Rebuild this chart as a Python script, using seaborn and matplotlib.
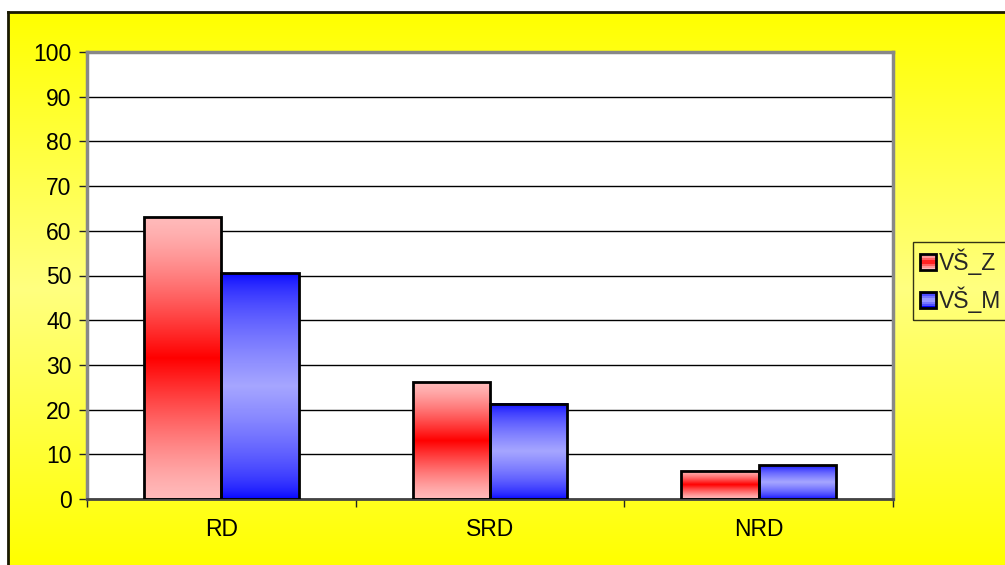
import numpy as np
import pandas as pd
import matplotlib
matplotlib.use("Agg")
import matplotlib.pyplot as plt
from matplotlib.patches import Rectangle
from matplotlib.legend_handler import HandlerBase
import seaborn as sns

categories = ["RD", "SRD", "NRD"]
series_names = ["VŠ_Z", "VŠ_M"]
values_z = [63.0, 26.1, 6.3]
values_m = [50.5, 21.3, 7.6]
y_ticks = list(range(0, 101, 10))

df = pd.DataFrame({
    "kategorie": categories * 2,
    "skupina": [series_names[0]] * 3 + [series_names[1]] * 3,
    "hodnota": values_z + values_m,
})

sns.set_theme(style="white")
plt.rcParams["font.family"] = ["Liberation Sans", "DejaVu Sans"]

W, H = 1005, 565
FS = 16.5
fig = plt.figure(figsize=(W / 100, H / 100), dpi=100, facecolor="white")

# yellow chart background with vertical gradient and dark frame
bg = fig.add_axes([8 / W, 0, 1 - 8 / W, 1 - 12 / H], zorder=0)
t = np.linspace(0, 1, 256)
light = 1 - np.abs(2 * t - 1)
bg_img = np.zeros((256, 1, 3))
bg_img[:, 0, 0] = 1.0
bg_img[:, 0, 1] = 1.0
bg_img[:, 0, 2] = 0.0 + 0.5 * light
bg.imshow(bg_img, aspect="auto", extent=[0, 1, 0, 1], interpolation="bilinear")
bg.set_xlim(0, 1)
bg.set_ylim(0, 1)
bg.set_xticks([])
bg.set_yticks([])
for s in ["right", "bottom"]:
    bg.spines[s].set_visible(False)
for s in ["left", "top"]:
    bg.spines[s].set_color("#1a1a00")
    bg.spines[s].set_linewidth(2)

ax = fig.add_axes([87 / W, (H - 499) / H, 806 / W, 447 / H], zorder=1)
ax.set_facecolor("white")

palette = {series_names[0]: "#ff0000", series_names[1]: "#0000ff"}
sns.barplot(data=df, x="kategorie", y="hodnota", hue="skupina",
            palette=palette, width=0.575, gap=0, ax=ax, legend=False,
            order=categories, hue_order=series_names, saturation=1)


def gradient(kind, n=256):
    tt = np.linspace(0, 1, n)
    mid = 1 - np.abs(2 * tt - 1)  # 1 at centre, 0 at ends
    img = np.zeros((n, 1, 3))
    if kind == "z":
        pink = np.array([1.0, 0.73, 0.73])
        red = np.array([1.0, 0.0, 0.0])
        w = mid ** 1.3
        img[:, 0, :] = pink[None, :] * (1 - w[:, None]) + red[None, :] * w[:, None]
    else:
        blue = np.array([0.0, 0.0, 1.0])
        pale = np.array([0.65, 0.65, 1.0])
        w = mid ** 0.6
        img[:, 0, :] = blue[None, :] * (1 - w[:, None]) + pale[None, :] * w[:, None]
    return img


for p in list(ax.patches):
    x0, y0 = p.get_x(), p.get_y()
    w, h = p.get_width(), p.get_height()
    fc = p.get_facecolor()
    kind = "z" if fc[0] > fc[2] else "m"
    ax.imshow(gradient(kind), aspect="auto", extent=[x0, x0 + w, y0, y0 + h],
              interpolation="bilinear", zorder=2)
    p.set_facecolor("none")
    p.set_edgecolor("black")
    p.set_linewidth(2)
    p.set_zorder(3)

ax.set_xlim(-0.5, 2.5)
ax.set_ylim(0, 100)
ax.set_yticks(y_ticks)
ax.set_yticklabels([str(v) for v in y_ticks])
ax.yaxis.grid(True, color="black", linewidth=1)
ax.set_axisbelow(True)
ax.set_xlabel("")
ax.set_ylabel("")

ax.set_xticks(range(len(categories)))
ax.set_xticklabels(categories)
ax.set_xticks([-0.5, 0.5, 1.5, 2.5], minor=True)
ax.tick_params(axis="x", which="major", length=0, pad=14, labelsize=FS, colors="black")
ax.tick_params(axis="x", which="minor", length=6, width=1, color="#222222", direction="out", bottom=True)
ax.tick_params(axis="y", length=6, width=1, color="#222222", direction="out", left=True,
               labelsize=FS, pad=5, colors="black")

for s in ["left", "top", "right"]:
    ax.spines[s].set_color("#888888")
    ax.spines[s].set_linewidth(2.5)
ax.spines["bottom"].set_color("#444444")
ax.spines["bottom"].set_linewidth(2)


class GradientSwatch(HandlerBase):
    def __init__(self, kind):
        super().__init__()
        self.kind = kind

    def create_artists(self, legend, orig_handle, xdescent, ydescent,
                       width, height, fontsize, trans):
        side = height * 1.0
        x = -xdescent + (width - side)
        y = -ydescent
        cols = gradient(self.kind, 8)[:, 0, :]
        arts = []
        n = len(cols)
        for i, c in enumerate(cols):
            arts.append(Rectangle((x, y + side * i / n), side, side / n,
                                  facecolor=c, edgecolor="none", transform=trans))
        arts.append(Rectangle((x, y), side, side, facecolor="none",
                              edgecolor="black", linewidth=2, transform=trans))
        return arts


h_z = Rectangle((0, 0), 1, 1)
h_m = Rectangle((0, 0), 1, 1)
leg = fig.legend([h_z, h_m], series_names,
                 handler_map={h_z: GradientSwatch("z"), h_m: GradientSwatch("m")},
                 loc="upper left", bbox_to_anchor=(913 / W, (H - 242) / H),
                 frameon=True, fontsize=FS, handlelength=0.7, handleheight=0.7,
                 handletextpad=0.15, borderpad=0.3, labelspacing=0.5,
                 borderaxespad=0, fancybox=False)
leg.get_frame().set_edgecolor("black")
leg.get_frame().set_facecolor("none")
leg.get_frame().set_linewidth(1)
leg.set_zorder(5)

fig.savefig("out.png", dpi=100, facecolor=fig.get_facecolor())
